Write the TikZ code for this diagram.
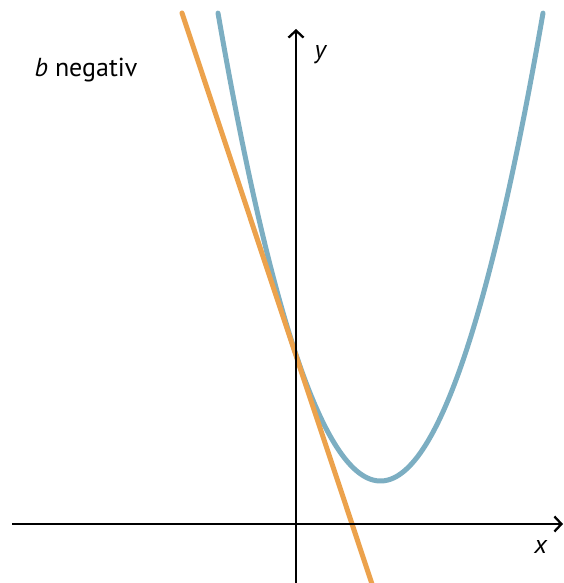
\documentclass[tikz,border=0pt]{standalone}
\usepackage{fontspec}
\setmainfont{PT Sans}
\usetikzlibrary{arrows.meta}
\definecolor{curveblue}{RGB}{124,174,194}
\definecolor{lineorange}{RGB}{236,162,76}
\tikzset{
  axis/.style={line width=2.3pt,black,-{Straight Barb[length=7pt,width=15pt,line width=2.3pt]}},
  parab/.style={line width=5pt,curveblue,line cap=round},
  tang/.style={line width=5pt,lineorange,line cap=round},
  lbl/.style={font=\fontsize{26}{30}\selectfont}
}
\begin{document}
\begin{tikzpicture}[x=1pt,y=-1pt]
\useasboundingbox (0,0) rectangle (564,583);
\coordinate (xs) at (12,524);
\coordinate (xe) at (563,524);
\coordinate (ys) at (296,590);
\coordinate (ye) at (296,29);
\coordinate (ts) at (182,13);
\coordinate (te) at (374,590);
\draw[parab] plot[domain=218:543,samples=120,smooth] (\x,{481-1.772*((\x-380.5)/10)^2});
\draw[tang] (ts) -- (te);
\draw[axis] (xs) -- (xe);
\draw[axis] (ys) -- (ye);
\node[lbl] (ylab) at (321,55) {\textit{y}};
\node[lbl] (xlab) at (541,547) {\textit{x}};
\node[lbl,anchor=base west] (blab) at (31,77) {\textit{b} negativ};
\end{tikzpicture}
\end{document}
